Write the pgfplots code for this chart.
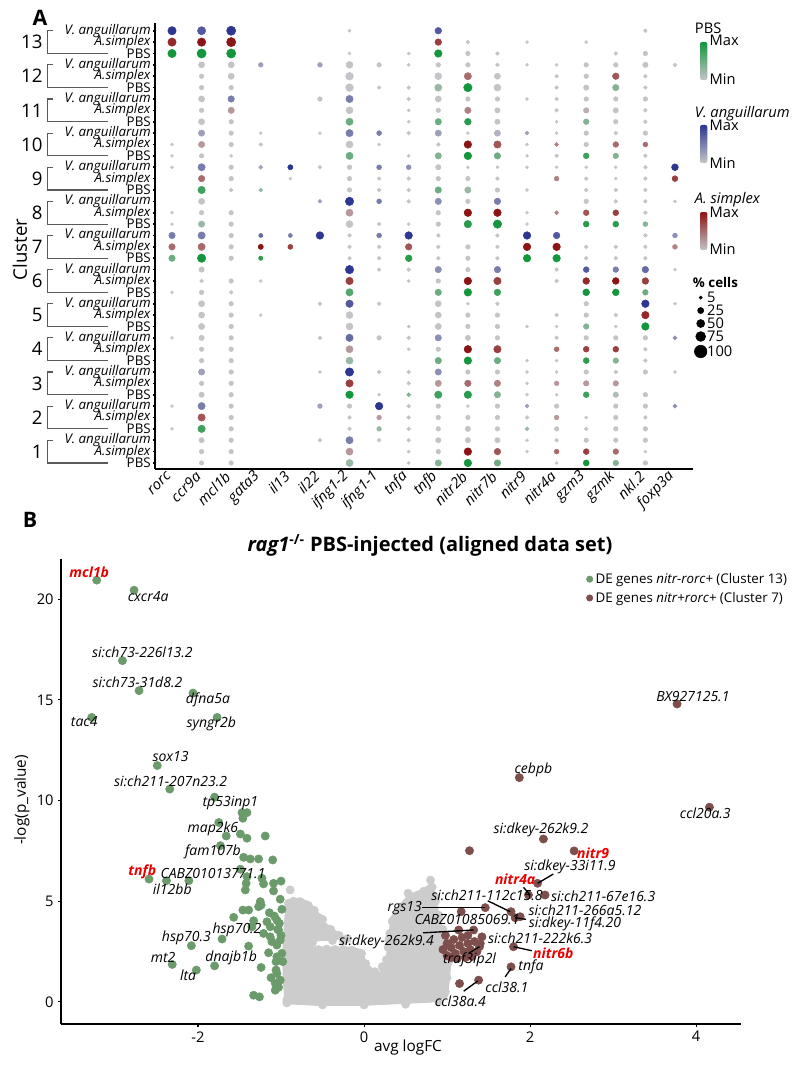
\documentclass[border=0pt]{standalone}
\usepackage{pgfplots}
\usepackage{pgfplotstable}
\pgfplotsset{compat=1.18}
\usepackage{fontspec}
\setmainfont{Open Sans}
\definecolor{gmin}{RGB}{196,196,200}
\definecolor{pbsc}{RGB}{20,150,60}
\definecolor{vac}{RGB}{45,55,145}
\definecolor{asc}{RGB}{140,20,20}
\definecolor{deg}{RGB}{107,155,107}
\definecolor{deb}{RGB}{125,78,75}
\definecolor{cloud}{RGB}{204,204,204}
\definecolor{lblred}{RGB}{235,0,0}
\definecolor{dend}{RGB}{90,90,90}
\pgfplotsset{
  colormap={pbs}{rgb255=(196,196,200) rgb255=(20,150,60)},
  colormap={va}{rgb255=(196,196,200) rgb255=(45,55,145)},
  colormap={as}{rgb255=(196,196,200) rgb255=(140,20,20)},
}
% value = 10*size code + colour level (0 = grey ... 8 = full colour); 0 = no dot
% columns: rorc ccr9a mcl1b gata3 il13 il22 ifng1-2 ifng1-1 tnfa tnfb nitr2b nitr7b nitr9 nitr4a gzm3 gzmk nkl.2 foxp3a
\pgfplotstableread{
c g0 g1 g2 g3 g4 g5 g6 g7 g8 g9 g10 g11 g12 g13 g14 g15 g16 g17
1 0 30 30 0 0 0 62 0 10 53 68 54 0 10 48 43 30 0
2 10 66 30 0 0 0 20 32 20 30 40 30 22 30 20 30 30 0
3 0 40 30 0 0 0 68 10 23 66 67 53 10 10 46 41 30 0
4 0 30 30 0 0 0 62 0 0 54 68 54 10 10 47 43 20 0
5 0 50 30 0 0 0 60 0 10 50 30 30 10 10 43 10 68 0
6 10 30 20 0 0 0 65 0 0 54 68 56 0 0 58 58 44 0
7 54 78 30 27 0 0 20 20 57 20 30 20 68 68 20 20 20 0
8 10 52 30 0 0 0 60 20 10 30 67 78 10 0 47 47 33 0
9 0 66 20 22 0 0 30 20 20 54 52 30 10 0 20 20 20 0
10 10 30 10 0 0 0 64 0 10 53 68 54 10 20 46 43 20 0
11 0 50 30 0 0 0 64 0 10 54 57 40 0 10 43 30 20 0
12 0 30 30 0 0 0 70 20 20 62 78 60 0 20 40 53 20 0
13 78 88 88 0 0 0 10 0 10 68 30 20 0 0 0 20 30 0
}\tabP
\pgfplotstableread{
c g0 g1 g2 g3 g4 g5 g6 g7 g8 g9 g10 g11 g12 g13 g14 g15 g16 g17
1 0 30 30 0 0 0 62 0 10 30 68 55 10 34 46 44 10 0
2 0 65 30 0 0 0 20 32 20 30 30 30 20 32 10 30 20 0
3 0 30 30 0 0 0 66 0 20 52 54 53 10 32 42 42 0 0
4 0 30 30 0 0 0 62 0 10 30 68 66 0 34 46 46 20 0
5 0 50 30 10 0 0 60 0 0 50 30 30 0 20 30 20 67 0
6 0 20 30 10 0 0 66 0 10 30 68 66 0 20 57 58 56 0
7 54 64 30 38 36 0 20 20 55 20 30 20 68 68 20 20 20 33
8 10 30 30 0 0 0 62 0 0 30 68 68 10 23 45 46 20 0
9 0 54 30 0 10 0 30 20 20 30 30 20 0 33 20 10 20 46
10 10 52 30 20 0 0 60 10 0 20 68 65 10 23 30 44 34 0
11 0 30 52 0 0 0 60 0 10 30 53 40 0 20 41 40 20 0
12 0 30 50 0 0 0 70 0 0 60 64 50 0 20 30 55 20 0
13 77 78 88 0 0 0 0 0 0 56 20 0 10 0 10 0 0 0
}\tabA
\pgfplotstableread{
c g0 g1 g2 g3 g4 g5 g6 g7 g8 g9 g10 g11 g12 g13 g14 g15 g16 g17
1 0 40 30 0 0 20 64 20 20 40 40 40 10 20 30 30 30 0
2 10 64 30 0 0 32 30 68 20 30 10 30 22 30 0 30 30 23
3 0 52 30 0 0 10 78 20 20 53 30 30 10 10 30 20 30 10
4 10 40 30 0 0 20 65 30 20 53 40 30 0 20 30 30 30 23
5 0 50 30 0 0 20 66 20 0 50 10 20 0 0 30 0 68 10
6 0 40 0 0 0 0 78 20 20 53 30 54 0 20 46 44 55 10
7 54 64 30 25 24 68 20 34 68 20 0 20 68 56 0 0 20 33
8 0 50 0 0 0 22 78 34 20 53 30 54 0 0 30 20 20 10
9 10 64 30 22 38 20 30 34 33 40 10 10 10 10 10 10 20 58
10 0 52 30 10 0 10 64 34 20 52 10 51 22 10 30 20 30 0
11 0 50 54 0 0 30 64 0 20 50 30 30 10 20 30 30 30 0
12 0 50 50 32 0 32 60 30 10 30 30 20 10 10 30 30 40 20
13 78 76 88 0 0 0 10 0 0 56 0 0 0 0 0 0 20 0
}\tabV
\newcommand{\dotrows}[3]{%
\pgfplotsinvokeforeach{0,...,17}{%
  \addplot[scatter, only marks, mark=*, colormap name=#2,
    scatter/use mapped color={draw=mapped color, fill=mapped color},
    point meta={mod(\thisrow{g##1},10)},
    visualization depends on={0.8+0.03*\thisrow{g##1} \as \msz},
    scatter/@pre marker code/.append style={/tikz/mark size=\msz},
    restrict expr to domain={\thisrow{g##1}}{5:100}]
    table[x expr=##1, y expr={3*\thisrow{c}-#3}] {#1};
}}
\newcommand{\gl}{\fontsize{10.5}{12}\selectfont\itshape}
\newcommand{\rl}{\fontsize{10.5}{12}\selectfont\bfseries\itshape}
\pgfplotsset{Bframe/.style={at={(45.75pt,-768pt)}, anchor=south west,
  width=510pt, height=348.75pt, scale only axis,
  xmin=-3.65, xmax=4.54, ymin=-1.1, ymax=22, clip=false}}
\begin{document}
\begin{tikzpicture}
\path[use as bounding box] (0,0) rectangle (600pt,-802.5pt);
% ---------------- Panel A ----------------
\node[anchor=center, font=\fontsize{16}{18}\selectfont\bfseries] at (30pt,-13.5pt) {A};
\begin{axis}[at={(116.25pt,-351.75pt)}, anchor=south west,
  width=403.5pt, height=334.5pt, scale only axis,
  xmin=-0.575, xmax=17.61, ymin=0.47, ymax=39.68,
  axis x line=bottom, axis y line=left, axis line style={-, line width=1.3pt},
  clip=false,
  point meta min=0, point meta max=8,
  xtick={0,...,17},
  xticklabels={rorc,ccr9a,mcl1b,gata3,il13,il22,ifng1-2,ifng1-1,tnfa,tnfb,nitr2b,nitr7b,nitr9,nitr4a,gzm3,gzmk,nkl.2,foxp3a},
  xticklabel style={rotate=45, anchor=east, font=\fontsize{11}{12}\selectfont\itshape},
  x tick style={draw=none},
  ytick={1,...,39},
  yticklabels={PBS,\textit{A.simplex},\textit{V. anguillarum},PBS,\textit{A.simplex},\textit{V. anguillarum},PBS,\textit{A.simplex},\textit{V. anguillarum},PBS,\textit{A.simplex},\textit{V. anguillarum},PBS,\textit{A.simplex},\textit{V. anguillarum},PBS,\textit{A.simplex},\textit{V. anguillarum},PBS,\textit{A.simplex},\textit{V. anguillarum},PBS,\textit{A.simplex},\textit{V. anguillarum},PBS,\textit{A.simplex},\textit{V. anguillarum},PBS,\textit{A.simplex},\textit{V. anguillarum},PBS,\textit{A.simplex},\textit{V. anguillarum},PBS,\textit{A.simplex},\textit{V. anguillarum},PBS,\textit{A.simplex},\textit{V. anguillarum}},
  yticklabel style={font=\fontsize{10}{11}\selectfont, inner sep=1.5pt},
  y tick style={line width=1.2pt, black},
  tick align=outside, major tick length=1.5pt,
]
\dotrows{\tabP}{pbs}{2}
\dotrows{\tabA}{as}{1}
\dotrows{\tabV}{va}{0}
% size legend
\addplot[only marks, mark=*, black, mark size=1.2pt] coordinates {(17.87,15.54)};
\addplot[only marks, mark=*, black, mark size=2.3pt] coordinates {(17.87,14.40)};
\addplot[only marks, mark=*, black, mark size=3.0pt] coordinates {(17.87,13.26)};
\addplot[only marks, mark=*, black, mark size=3.7pt] coordinates {(17.87,12.12)};
\addplot[only marks, mark=*, black, mark size=4.7pt] coordinates {(17.87,10.80)};
\node[anchor=west, inner sep=0pt, font=\fontsize{11}{12}\selectfont] at (axis cs:18.08,15.54) {5};
\node[anchor=west, inner sep=0pt, font=\fontsize{11}{12}\selectfont] at (axis cs:18.08,14.40) {25};
\node[anchor=west, inner sep=0pt, font=\fontsize{11}{12}\selectfont] at (axis cs:18.08,13.26) {50};
\node[anchor=west, inner sep=0pt, font=\fontsize{11}{12}\selectfont] at (axis cs:18.08,12.12) {75};
\node[anchor=west, inner sep=0pt, font=\fontsize{11}{12}\selectfont] at (axis cs:18.08,10.80) {100};
\node[anchor=west, inner sep=0pt, font=\fontsize{10}{12}\selectfont\bfseries] at (axis cs:17.6,16.85) {\% cells};
% dendrogram brackets and cluster numbers
\pgfplotsinvokeforeach{1,...,13}{
  \draw[dend, line width=0.8pt] (axis cs:-4.02,{3*#1}) -- (axis cs:-4.22,{3*#1}) -- (axis cs:-4.22,{3*#1-2}) -- (axis cs:-2.16,{3*#1-2});
  \node[anchor=east, inner sep=0pt, font=\fontsize{14}{16}\selectfont] at (axis cs:-4.37,{3*#1-1}) {#1};
}
\node[rotate=90, font=\fontsize{14}{16}\selectfont] at (axis cs:-5.14,19.76) {Cluster};
\end{axis}
% colour legends
\node[anchor=west, inner sep=0pt, font=\fontsize{11}{12}\selectfont] at (521pt,-21pt) {PBS};
\shade[top color=pbsc, bottom color=gmin, rounded corners=1.5pt] (525pt,-31.5pt) rectangle (530.5pt,-60pt);
\node[anchor=west, inner sep=0pt, font=\fontsize{11}{12}\selectfont] at (532pt,-30.5pt) {Max};
\node[anchor=west, inner sep=0pt, font=\fontsize{11}{12}\selectfont] at (532pt,-59.5pt) {Min};
\node[anchor=west, inner sep=0pt, font=\fontsize{11}{12}\selectfont\itshape] at (521pt,-85.5pt) {V. anguillarum};
\shade[top color=vac, bottom color=gmin, rounded corners=1.5pt] (525pt,-93.75pt) rectangle (530.5pt,-122.25pt);
\node[anchor=west, inner sep=0pt, font=\fontsize{11}{12}\selectfont] at (532pt,-94pt) {Max};
\node[anchor=west, inner sep=0pt, font=\fontsize{11}{12}\selectfont] at (532pt,-122.5pt) {Min};
\node[anchor=west, inner sep=0pt, font=\fontsize{11}{12}\selectfont\itshape] at (521pt,-150pt) {A. simplex};
\shade[top color=asc, bottom color=gmin, rounded corners=1.5pt] (525pt,-159pt) rectangle (530.5pt,-187.5pt);
\node[anchor=west, inner sep=0pt, font=\fontsize{11}{12}\selectfont] at (532pt,-159pt) {Max};
\node[anchor=west, inner sep=0pt, font=\fontsize{11}{12}\selectfont] at (532pt,-187pt) {Min};
% ---------------- Panel B ----------------
\node[anchor=center, font=\fontsize{16}{18}\selectfont\bfseries] at (22.5pt,-390pt) {B};
\node[anchor=center, font=\fontsize{15}{17}\selectfont\bfseries] at (322.5pt,-408.75pt) {\textit{rag1}\textsuperscript{-/-} PBS-injected (aligned data set)};
\node[rotate=90, font=\fontsize{11.5}{13}\selectfont] at (16.5pt,-600pt) {-log(p\_value)};
\node[font=\fontsize{11.5}{13}\selectfont] at (306pt,-786pt) {avg logFC};
\begin{axis}[Bframe,
  axis x line=bottom, axis y line=left, axis line style={-, line width=1.4pt},
  xtick={-2,0,2,4}, ytick={0,5,10,15,20},
  tick align=outside, major tick length=2pt, tick style={black, line width=0.8pt},
  ticklabel style={font=\fontsize{11}{12}\selectfont},
  /pgf/number format/assume math mode=true,
  legend style={at={(1.072,0.976)}, anchor=north east, draw=none, fill=none,
    font=\fontsize{10}{12}\selectfont, row sep=1pt, inner sep=0pt},
  legend cell align=left,
  legend image post style={mark size=2.4pt},
]
% non-DE cloud (outline of the dense grey point cloud)
\addplot[fill=cloud, draw=cloud, line width=1pt, line join=round, forget plot] coordinates {
(-0.952,-0.08) (-0.972,1.24) (-0.972,2.90) (-0.952,4.23) (-0.912,5.06) (-0.791,5.14)
(-0.671,4.98) (-0.550,4.40) (-0.450,3.82) (-0.329,3.48) (-0.249,3.23) (-0.389,3.07)
(-0.630,3.03) (-0.690,2.87) (-0.590,2.71) (-0.148,2.71) (-0.028,2.57) (0.012,2.07)
(0.052,1.41) (0.133,1.33) (0.233,1.58) (0.273,2.24) (0.293,3.23) (0.334,4.23)
(0.414,4.73) (0.534,5.31) (0.695,5.56) (0.815,5.89) (0.855,5.39) (0.896,4.40)
(0.936,3.73) (0.996,3.07) (1.057,2.41) (1.036,1.58) (1.016,0.75) (0.996,0.25)
(0.815,0.00) (0.012,-0.16) (-0.590,-0.16) (-0.952,-0.08)} -- cycle;
\addplot[only marks, mark=*, mark size=3.1pt, color=cloud, forget plot] coordinates {
(-0.89,5.56) (-0.77,4.98) (-0.91,4.90) (-0.67,4.78) (-0.55,4.20) (-0.45,3.65) (-0.33,3.30)
(-0.25,3.05) (0.30,3.10) (0.34,4.00) (0.42,4.55) (0.53,5.40) (0.69,5.35) (0.80,6.05)
(0.86,5.20) (0.90,4.30) (0.95,3.60) (1.00,2.90) (1.00,2.20) (0.13,1.50) (0.05,1.60)
(0.22,1.75) (-0.03,2.40) (-0.14,2.55) (-0.93,0.10) (0.97,0.40) (0.62,4.70) (-0.20,0.20)
(-0.93,4.60) (-0.85,5.00) (-0.72,4.85) (-0.60,4.55) (-0.50,4.10) (-0.40,3.60) (-0.30,3.30)
(-0.55,2.60) (-0.45,2.62) (-0.35,2.60) (-0.25,2.60) (-0.15,2.55) (-0.05,2.40) (0.02,1.90)
(0.07,1.35) (0.15,1.25) (0.24,1.55) (0.27,2.10) (0.29,2.70) (0.31,3.40) (0.36,4.10)
(0.45,4.60) (0.60,5.20) (0.72,5.50) (0.82,5.70) (0.86,5.00) (0.90,4.20) (0.95,3.50)
(1.00,2.80) (1.02,2.00) (1.00,1.20) (0.98,0.50) (0.90,0.00) (0.50,-0.12) (0.00,-0.15)
(-0.50,-0.15) (-0.93,-0.05) (-0.62,2.95) (-0.20,3.15) (-0.38,3.05)};
\addplot[only marks, mark=*, mark size=3.1pt, color=deg] coordinates {
(-3.22,20.95) (-2.77,20.45) (-2.91,16.95) (-2.71,15.46) (-2.06,15.34) (-3.28,14.13) (-1.77,14.13)
(-2.49,11.74) (-2.34,10.57) (-1.80,10.17) (-1.47,9.40) (-1.41,9.40) (-1.46,9.12) (-1.75,8.91)
(-1.66,8.24) (-1.49,8.34) (-1.41,8.13) (-1.19,8.24) (-1.73,7.76) (-1.45,7.18) (-1.37,7.10)
(-1.27,7.10) (-1.10,7.05) (-2.59,6.10) (-2.38,6.02) (-2.11,6.02) (-1.49,6.59) (-1.41,6.22)
(-1.42,5.89) (-1.23,6.14) (-1.21,5.86) (-1.09,5.89) (-1.00,6.00) (-1.43,5.56) (-1.09,5.51)
(-1.25,4.98) (-1.24,4.81) (-1.27,4.73) (-1.46,4.56) (-1.39,4.56) (-1.14,4.43) (-1.57,4.20)
(-1.08,4.26) (-1.33,4.03) (-1.17,3.98) (-1.05,4.06) (-1.35,3.73) (-1.13,3.73) (-1.03,3.57)
(-1.21,3.40) (-1.13,3.23) (-1.01,3.07) (-1.11,2.99) (-1.05,2.82) (-1.39,2.77) (-0.99,2.41)
(-1.15,2.44) (-1.05,2.24) (-1.24,1.71) (-1.06,1.58) (-1.05,1.41) (-1.01,1.08) (-1.07,0.92)
(-1.03,0.72) (-1.07,0.58) (-1.33,0.33) (-1.26,0.25) (-2.08,2.79) (-1.71,3.12) (-2.31,1.86)
(-2.02,1.58) (-1.80,1.79) (-1.02,3.90) (-1.00,3.30) (-0.98,2.00) (-1.04,3.60) (-1.06,2.00)
(-1.12,1.20) (-0.99,4.60) (-1.01,5.10)};
\addlegendentry{DE genes \textit{nitr-rorc+} (Cluster 13)}
\addplot[only marks, mark=*, mark size=3.1pt, color=deb] coordinates {
(3.77,14.80) (1.87,11.14) (4.16,9.67) (2.16,8.09) (1.27,7.51) (2.53,7.50) (2.09,5.89)
(1.98,5.31) (2.18,5.31) (1.77,4.48) (1.46,4.68) (1.88,4.23) (1.82,4.18) (1.32,3.57)
(1.14,3.57) (1.42,3.23) (1.80,2.74) (1.39,2.74) (1.77,1.74) (1.38,1.08) (1.15,0.91)
(1.17,4.48) (0.95,2.60) (1.00,2.90) (1.00,2.30) (1.05,2.70) (1.08,3.10) (1.10,2.40)
(1.12,2.15) (1.15,2.80) (1.18,3.20) (1.20,2.50) (1.22,2.20) (1.25,2.90) (1.28,2.60)
(1.30,2.25) (1.33,3.00) (1.36,2.50) (1.40,2.90) (1.05,2.20) (1.25,3.30) (0.98,3.30)};
\addlegendentry{DE genes \textit{nitr+rorc+} (Cluster 7)}
\end{axis}
% overlay axis (same frame) carrying the gene labels on top of the points
\begin{axis}[Bframe, hide axis]
\node[font=\rl, text=lblred] at (axis cs:-3.31,21.32) {mcl1b};
\node[font=\gl] at (axis cs:-2.60,20.13) {cxcr4a};
\node[font=\gl] at (axis cs:-2.67,17.35) {si:ch73-226l13.2};
\node[font=\gl] at (axis cs:-2.73,15.86) {si:ch73-31d8.2};
\node[font=\gl] at (axis cs:-1.88,15.01) {dfna5a};
\node[font=\gl] at (axis cs:-3.37,13.92) {tac4};
\node[font=\gl] at (axis cs:-1.84,13.82) {syngr2b};
\node[font=\gl] at (axis cs:-2.33,12.17) {sox13};
\node[font=\gl] at (axis cs:-2.33,10.98) {si:ch211-207n23.2};
\node[font=\gl] at (axis cs:-1.61,9.89) {tp53inp1};
\node[font=\gl] at (axis cs:-1.82,8.59) {map2k6};
\node[font=\gl] at (axis cs:-1.82,7.45) {fam107b};
\node[font=\rl, text=lblred] at (axis cs:-2.67,6.45) {tnfb};
\node[font=\gl] at (axis cs:-1.82,6.40) {CABZ01013771.1};
\node[font=\gl] at (axis cs:-2.31,5.61) {il12bb};
\node[font=\gl] at (axis cs:-2.14,3.17) {hsp70.3};
\node[font=\gl] at (axis cs:-1.53,3.57) {hsp70.2};
\node[font=\gl] at (axis cs:-2.42,2.22) {mt2};
\node[font=\gl] at (axis cs:-2.12,1.33) {lta};
\node[font=\gl] at (axis cs:-1.60,2.17) {dnajb1b};
\node[font=\gl] at (axis cs:3.96,15.16) {BX927125.1};
\node[font=\gl] at (axis cs:2.04,11.53) {cebpb};
\node[font=\gl] at (axis cs:4.11,9.39) {ccl20a.3};
\node[font=\gl] at (axis cs:2.13,8.54) {si:dkey-262k9.2};
\node[font=\rl, text=lblred] at (axis cs:2.76,7.40) {nitr9};
\node[font=\gl] at (axis cs:2.48,6.70) {si:dkey-33i11.9};
\node[font=\rl, text=lblred] at (axis cs:1.82,6.11) {nitr4a};
\node[font=\gl] at (axis cs:1.48,5.31) {si:ch211-112c15.8};
\node[font=\gl] at (axis cs:2.88,5.26) {si:ch211-67e16.3};
\node[font=\gl] at (axis cs:0.49,4.67) {rgs13};
\node[font=\gl] at (axis cs:2.66,4.57) {si:ch211-266a5.12};
\node[font=\gl] at (axis cs:1.24,4.07) {CABZ01085069.1};
\node[font=\gl] at (axis cs:2.54,3.87) {si:dkey-11f4.20};
\node[font=\gl] at (axis cs:0.27,2.97) {si:dkey-262k9.4};
\node[font=\gl] at (axis cs:2.12,3.17) {si:ch211-222k6.3};
\node[font=\rl, text=lblred] at (axis cs:2.28,2.42) {nitr6b};
\node[font=\gl] at (axis cs:1.27,2.08) {traf3ip2l};
\node[font=\gl] at (axis cs:2.01,1.73) {tnfa};
\node[font=\gl] at (axis cs:1.72,0.73) {ccl38.1};
\node[font=\gl] at (axis cs:1.16,0.03) {ccl38a.4};
\draw[line width=1pt] (axis cs:2.09,5.89) -- (axis cs:2.28,6.35);
\draw[line width=1pt] (axis cs:1.92,5.69) -- (axis cs:2.00,5.31);
\draw[line width=1pt] (axis cs:1.49,5.02) -- (axis cs:1.76,4.48);
\draw[line width=1pt] (axis cs:0.70,4.68) -- (axis cs:1.46,4.68);
\draw[line width=1pt] (axis cs:1.82,4.18) -- (axis cs:1.95,4.10);
\draw[line width=1pt] (axis cs:0.71,3.43) -- (axis cs:1.32,3.57);
\draw[line width=1pt] (axis cs:1.80,2.74) -- (axis cs:2.02,2.54);
\draw[line width=1pt] (axis cs:1.26,2.41) -- (axis cs:1.39,2.74);
\draw[line width=1pt] (axis cs:1.70,1.24) -- (axis cs:1.77,1.66);
\draw[line width=1pt] (axis cs:1.20,0.53) -- (axis cs:1.37,1.04);
\end{axis}
\end{tikzpicture}
\end{document}
